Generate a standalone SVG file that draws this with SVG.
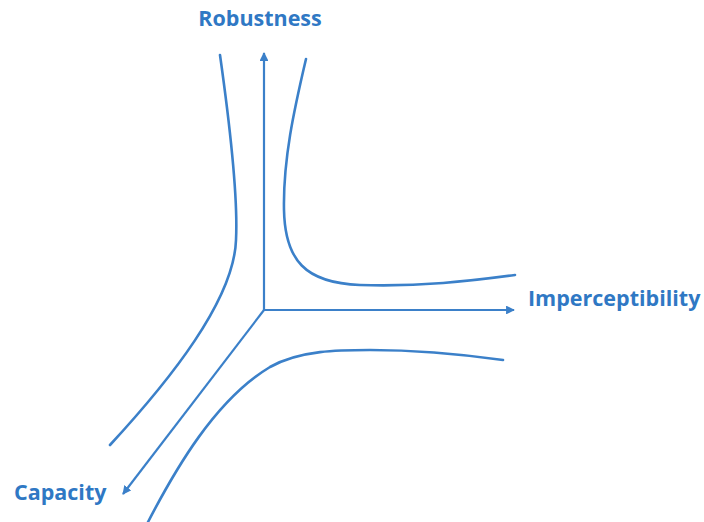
<svg xmlns="http://www.w3.org/2000/svg" width="704" height="522" viewBox="0 0 704 522">
<style>
.ax{stroke:#3b80c9;stroke-width:2.2;fill:none}
.cv{stroke:#3b80c9;stroke-width:2.6;fill:none;stroke-linecap:round}
.lb{font-family:"Open Sans","Liberation Sans",sans-serif;font-weight:bold;font-size:21.5px;fill:#2f78c4}
</style>
<defs>
<marker id="ah" viewBox="0 0 10 10" refX="9" refY="5" markerWidth="4" markerHeight="4" orient="auto">
<path d="M0,0 L10,5 L0,10 z" fill="#3b80c9"/>
</marker>
</defs>
<g id="axes">
<line class="ax" x1="264" y1="310" x2="264" y2="53" marker-end="url(#ah)"/>
<line class="ax" x1="264" y1="310" x2="514" y2="310" marker-end="url(#ah)"/>
<line class="ax" x1="264" y1="310" x2="123" y2="494" marker-end="url(#ah)"/>
</g>
<g id="curves">
<path class="cv" d="M220,55 C232,140 238,200 236,240 C234,300 170,380 110,445"/>
<path class="cv" d="M306,59 C294,110 283,160 284,210 C285,260 305,283 360,285 C420,287 470,281 515,275"/>
<path class="cv" d="M148,522 C175,470 215,400 270,367 C300,350 340,350 370,350 C420,350 460,354 503,360"/>
</g>
<g id="labels">
<text class="lb" x="260" y="26" text-anchor="middle">Robustness</text>
<text class="lb" x="528" y="306">Imperceptibility</text>
<text class="lb" x="14" y="500">Capacity</text>
</g>
</svg>
